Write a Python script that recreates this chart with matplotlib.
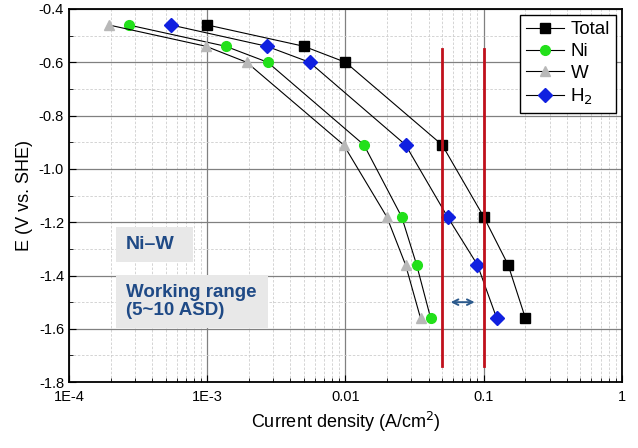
import matplotlib
matplotlib.use("Agg")
import matplotlib.pyplot as plt
from matplotlib.patches import Rectangle
from matplotlib.ticker import FixedLocator, FixedFormatter, LogLocator, NullFormatter, MultipleLocator

plt.rcParams['font.family'] = ['Liberation Sans', 'DejaVu Sans']

# Data
E_levels = [-0.46, -0.54, -0.60, -0.91, -1.18, -1.36, -1.56]
total_i = [0.001, 0.005, 0.010, 0.050, 0.100, 0.150, 0.200]
ni_i = [0.00027, 0.00136, 0.00274, 0.0136, 0.0255, 0.0327, 0.0413]
w_i = [0.000194, 0.00098, 0.00193, 0.0097, 0.0199, 0.0272, 0.0349]
h2_i = [0.000546, 0.0027, 0.0055, 0.0272, 0.0547, 0.090, 0.124]

range_x = [0.05, 0.1]
range_E = [-0.55, -1.74]
arrow_x = [0.055, 0.09]
arrow_E = -1.5

xticks = [1e-4, 1e-3, 1e-2, 1e-1, 1]
xticklabels = ["1E-4", "1E-3", "0.01", "0.1", "1"]

fig = plt.figure(figsize=(6.38, 4.48), dpi=100)
ax = fig.add_axes([0.108, 0.147, 0.867, 0.833])

ax.set_xscale('log')
ax.set_xlim(1e-4, 1)
ax.set_ylim(-1.8, -0.4)

ax.xaxis.set_major_locator(FixedLocator(xticks))
ax.xaxis.set_major_formatter(FixedFormatter(xticklabels))
ax.xaxis.set_minor_locator(LogLocator(base=10, subs=range(2, 10)))
ax.xaxis.set_minor_formatter(NullFormatter())
ax.yaxis.set_minor_locator(MultipleLocator(0.1))
ax.set_yticks([-1.8, -1.6, -1.4, -1.2, -1.0, -0.8, -0.6, -0.4])
ax.set_yticklabels([f"{v:.1f}" for v in ax.get_yticks()])
ax.grid(True, which='major', color='#808080', linewidth=0.9, linestyle='-')
ax.grid(True, which='minor', color='#cdcdcd', linewidth=0.6, linestyle=(0, (3, 2)))
ax.set_axisbelow(True)

ax.tick_params(which='both', direction='in', labelsize=10.5)
ax.tick_params(which='major', length=5)
ax.tick_params(which='minor', length=3)
ax.tick_params(axis='x', pad=6)
for s in ax.spines.values():
    s.set_linewidth(1.3)

line_kw = dict(color='black', linewidth=0.8)
ax.plot(total_i, E_levels, marker='s', markersize=7, markerfacecolor='black',
        markeredgecolor='black', label='Total', **line_kw)
ax.plot(ni_i, E_levels, marker='o', markersize=7, markerfacecolor='#22e01a',
        markeredgecolor='#22e01a', label='Ni', **line_kw)
ax.plot(w_i, E_levels, marker='^', markersize=7, markerfacecolor='#b8b8b8',
        markeredgecolor='#b8b8b8', label='W', **line_kw)
ax.plot(h2_i, E_levels, marker='D', markersize=7, markerfacecolor='#1020e0',
        markeredgecolor='#1020e0', label='H$_2$', **line_kw)

for xv in range_x:
    ax.plot([xv, xv], range_E, color='#c0101c', linewidth=2)

ax.annotate('', xy=(arrow_x[0], arrow_E), xytext=(arrow_x[1], arrow_E),
            arrowprops=dict(arrowstyle='<->', color='#2c5a8c', lw=1.4))

# annotation boxes (figure fraction)
fig.patches.append(Rectangle((0.1818, 0.4152), 0.1207, 0.0781, transform=fig.transFigure,
                             facecolor='#e8e8e8', edgecolor='none', zorder=2))
fig.patches.append(Rectangle((0.1818, 0.2679), 0.2382, 0.1183, transform=fig.transFigure,
                             facecolor='#e8e8e8', edgecolor='none', zorder=2))
fig.text(0.1975, 0.4545, "Ni\u2013W", fontsize=14, fontweight='bold', color='#1f4a86',
         va='center', ha='left', zorder=3)
fig.text(0.1975, 0.327, "Working range\n(5~10 ASD)", fontsize=13.5, fontweight='bold',
         color='#1f4a86', va='center', ha='left', linespacing=1.05, zorder=3)

leg = ax.legend(loc='upper right', fontsize=13.5, frameon=True, fancybox=False,
                edgecolor='black', framealpha=1, handlelength=2.0,
                borderaxespad=0.3, labelspacing=0.25, handletextpad=0.35,
                borderpad=0.35)
leg.get_frame().set_linewidth(1.0)

ax.set_xlabel("Current density (A/cm$^2$)", fontsize=13)
ax.set_ylabel("E (V vs. SHE)", fontsize=13)

fig.savefig("out.png", dpi=100)
